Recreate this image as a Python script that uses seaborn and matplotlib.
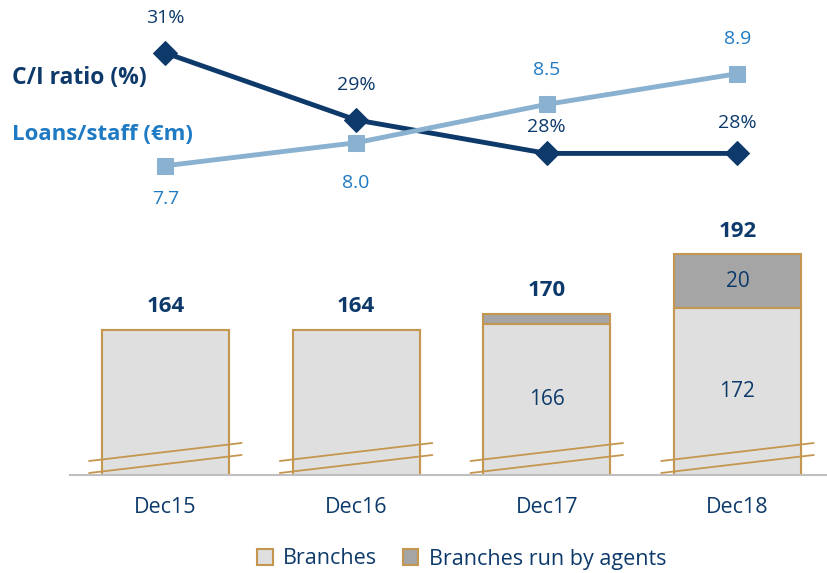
import numpy as np
import matplotlib.pyplot as plt
import matplotlib.patches as mpatches
import seaborn as sns

sns.set_theme(style='white')
plt.rcParams['font.family'] = ['Open Sans', 'DejaVu Sans']

# data
periods = ['Dec15', 'Dec16', 'Dec17', 'Dec18']
branches = [164, 164, 166, 172]
agents = [0, 0, 4, 20]
totals = [164, 164, 170, 192]
ci_ratio = [31, 29, 28, 28]
ci_labels = ['31%', '29%', '28%', '28%']
loans_staff = [7.7, 8.0, 8.5, 8.9]
loans_labels = ['7.7', '8.0', '8.5', '8.9']

NAVY = '#0D3A6B'
BLUE = '#1F7AC4'
LIGHT = '#8AB2D0'
TAN = '#C4964F'
GREY_LIGHT = '#DFDFDF'
GREY_DARK = '#A5A5A5'

fig = plt.figure(figsize=(8.27, 5.73), dpi=100)
W, H = 827, 573
ax = fig.add_axes([70 / W, 1 - 475 / H, (W - 70) / W, 475 / H])
XLIM = (-0.5, -0.5 + (W - 70) / 190.7)

# stacked bars: totals behind, branches in front
sns.barplot(x=periods, y=totals, color=GREY_DARK, edgecolor=TAN, linewidth=1.5,
            width=127 / 190.7, saturation=1, ax=ax)
sns.barplot(x=periods, y=branches, color=GREY_LIGHT, edgecolor=TAN, linewidth=1.5,
            width=127 / 190.7, saturation=1, ax=ax)

# bar axis is broken: it starts well above zero
ymin = 110.3
px = 2.705  # pixels per unit on bar axis
ax.set_ylim(ymin, ymin + 475 / px)

# broken-axis marks
for i in range(len(periods)):
    xs = [i - 0.40, i + 0.40]
    ax.plot(xs, [ymin + 14 / px, ymin + 32 / px], color=TAN, lw=1.3, zorder=5, clip_on=False)
    ax.plot(xs, [ymin + 2 / px, ymin + 20 / px], color=TAN, lw=1.3, zorder=5, clip_on=False)

# labels on bars
for i in range(len(periods)):
    ax.annotate(str(totals[i]), (i, totals[i]), xytext=(0, 16.5), textcoords='offset points',
                ha='center', va='center', fontsize=16, fontweight='bold', color=NAVY)
    if agents[i] > 0:
        ax.text(i, ymin + (branches[i] - ymin) / 2, str(branches[i]), ha='center', va='center',
                fontsize=15, color=NAVY)
    if agents[i] >= 10:
        ax.text(i, branches[i] + agents[i] / 2, str(agents[i]), ha='center', va='center',
                fontsize=15, color=NAVY)

ax.set_yticks([])
ax.set_ylabel('')
for s in ['top', 'right', 'left']:
    ax.spines[s].set_visible(False)
ax.spines['bottom'].set_color('#BFBFBF')
ax.spines['bottom'].set_linewidth(1.5)
ax.spines['bottom'].set_zorder(6)
ax.set_xticks(range(len(periods)))
ax.set_xticklabels(periods, fontsize=15.5, color=NAVY)
ax.set_xticks(np.arange(-0.5, len(periods)), minor=True)
ax.tick_params(axis='x', which='major', length=0, pad=16)
ax.tick_params(axis='x', which='minor', length=8, width=1.2, color='#BFBFBF', direction='out')

# C/I ratio line
ax2 = ax.twinx()
sns.lineplot(x=list(range(4)), y=ci_ratio, ax=ax2, color=NAVY, lw=3.5, marker='D',
             markersize=12, markeredgecolor=NAVY, zorder=4)
ax2.set_ylim(18.4, 32.58)
ci_off = [25, 25, 19, 22]
for i, lab in enumerate(ci_labels):
    ax2.annotate(lab, (i, ci_ratio[i]), xytext=(0, ci_off[i]), textcoords='offset points',
                 ha='center', va='center', fontsize=14, color=NAVY)

# Loans/staff line
ax3 = ax.twinx()
sns.lineplot(x=list(range(4)), y=loans_staff, ax=ax3, color=LIGHT, lw=3.5, marker='s',
             markersize=11, markeredgecolor=LIGHT, zorder=4)
ax3.set_ylim(3.67, 9.86)
ln_off = [-24, -29, 25, 25]
for i, lab in enumerate(loans_labels):
    ax3.annotate(lab, (i, loans_staff[i]), xytext=(0, ln_off[i]), textcoords='offset points',
                 ha='center', va='center', fontsize=14, color=BLUE)

for a in (ax2, ax3):
    a.set_yticks([])
    a.set_ylabel('')
    for s in a.spines.values():
        s.set_visible(False)
for a in (ax, ax2, ax3):
    a.set_xlim(XLIM)

fig.text(12 / W, 1 - 78 / H, 'C/I ratio (%)', fontsize=16.5, fontweight='bold', color=NAVY, va='center')
fig.text(12 / W, 1 - 135 / H, 'Loans/staff (€m)', fontsize=16, fontweight='bold', color=BLUE, va='center')

handles = [mpatches.Patch(facecolor=GREY_LIGHT, edgecolor=TAN, lw=1.5, label='Branches'),
           mpatches.Patch(facecolor=GREY_DARK, edgecolor=TAN, lw=1.5, label='Branches run by agents')]
leg = fig.legend(handles=handles, loc='center', bbox_to_anchor=(462 / W, 1 - 559 / H), ncol=2,
                 frameon=False, fontsize=15.5, handlelength=0.7, handleheight=0.7,
                 handletextpad=0.5, columnspacing=1.2)
for t in leg.get_texts():
    t.set_color(NAVY)

fig.savefig('out.png', dpi=100)
